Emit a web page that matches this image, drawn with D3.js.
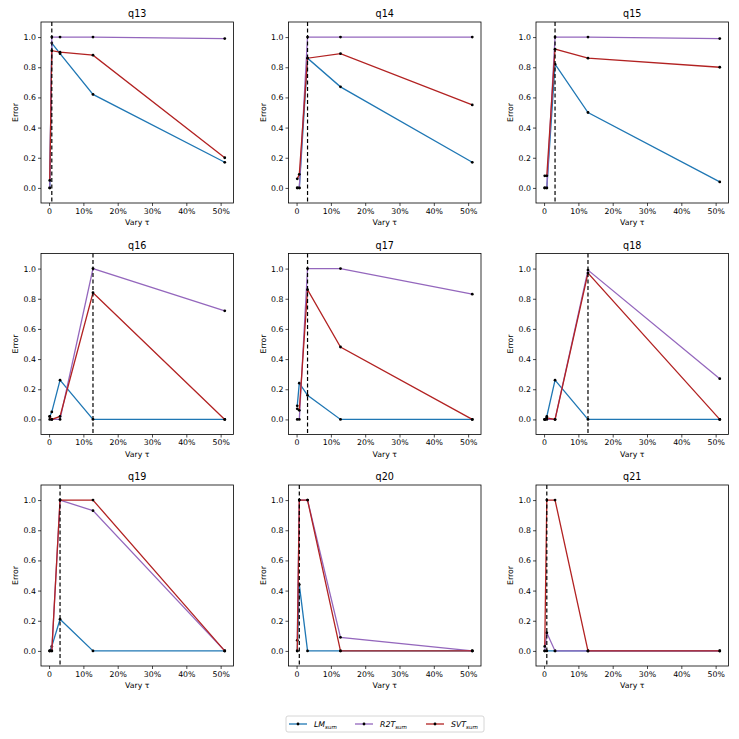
<!DOCTYPE html>
<html>
<head>
    <meta charset="utf-8">
    <title></title>
    <script src="https://d3js.org/d3.v7.min.js"></script>
    <style>
        html, body { margin: 0; padding: 0; background: white; }
        text { font-family: "DejaVu Sans", sans-serif; }
    </style>
</head>
<body>
<div id="chart"></div>
<script>
    // tau values (percent) shared by every panel
    const taus = [0.2, 0.8, 3.2, 12.8, 51.2];
    const queries = ["q13", "q14", "q15", "q16", "q17", "q18", "q19", "q20", "q21"];

    // error per query, one row per query, one value per tau
    const lmSum = [
        [0.00, 0.96, 0.89, 0.62, 0.17],
        [0.00, 0.00, 0.86, 0.67, 0.17],
        [0.00, 0.00, 0.82, 0.50, 0.04],
        [0.02, 0.05, 0.26, 0.00, 0.00],
        [0.09, 0.24, 0.16, 0.00, 0.00],
        [0.00, 0.02, 0.26, 0.00, 0.00],
        [0.00, 0.03, 0.21, 0.00, 0.00],
        [0.00, 0.44, 0.00, 0.00, 0.00],
        [0.00, 0.00, 0.00, 0.00, 0.00]
    ];
    const r2tSum = [
        [0.00, 1.00, 1.00, 1.00, 0.99],
        [0.00, 0.00, 1.00, 1.00, 1.00],
        [0.00, 0.00, 1.00, 1.00, 0.99],
        [0.00, 0.00, 0.00, 1.00, 0.72],
        [0.00, 0.00, 1.00, 1.00, 0.83],
        [0.00, 0.00, 0.00, 0.99, 0.27],
        [0.00, 0.00, 1.00, 0.93, 0.00],
        [0.07, 1.00, 1.00, 0.09, 0.00],
        [0.00, 0.12, 0.00, 0.00, 0.00]
    ];
    const svtSum = [
        [0.05, 0.91, 0.90, 0.88, 0.20],
        [0.06, 0.09, 0.86, 0.89, 0.55],
        [0.08, 0.08, 0.92, 0.86, 0.80],
        [0.02, 0.00, 0.02, 0.84, 0.00],
        [0.07, 0.06, 0.86, 0.48, 0.00],
        [0.00, 0.01, 0.00, 0.97, 0.00],
        [0.00, 0.00, 1.00, 1.00, 0.00],
        [0.00, 1.00, 1.00, 0.00, 0.00],
        [0.03, 1.00, 1.00, 0.00, 0.00]
    ];
    // dashed marker: chosen tau per query
    const chosenTau = [0.8, 3.2, 3.2, 12.8, 3.2, 12.8, 3.2, 0.8, 0.8];

    const xTicks = [0, 10, 20, 30, 40, 50];
    const yTicks = [0, 0.2, 0.4, 0.6, 0.8, 1.0];

    const series = [
        { name: "LM", values: lmSum, color: "#1f77b4" },
        { name: "R2T", values: r2tSum, color: "#9467bd" },
        { name: "SVT", values: svtSum, color: "#b22222" }
    ];

    const W = 739, H = 739;
    const colLeft = [41, 288.5, 536];
    const rowTop = [22, 253.5, 485];
    const pw = 192.5, ph = 181;

    const svg = d3.select("#chart").append("svg")
        .attr("width", W)
        .attr("height", H);

    svg.append("rect").attr("width", W).attr("height", H).attr("fill", "white");

    const x = d3.scaleLinear().domain([-2.35, 53.75]).range([0, pw]);
    const y = d3.scaleLinear().domain([-0.1, 1.1]).range([ph, 0]);

    queries.forEach((q, i) => {
        const g = svg.append("g")
            .attr("transform", `translate(${colLeft[i % 3]},${rowTop[Math.floor(i / 3)]})`);

        // axes
        const xa = g.append("g")
            .attr("transform", `translate(0,${ph})`)
            .call(d3.axisBottom(x).tickValues(xTicks)
                .tickFormat(d => d === 0 ? "0" : d + "%")
                .tickSize(3).tickPadding(2));
        const ya = g.append("g")
            .call(d3.axisLeft(y).tickValues(yTicks)
                .tickFormat(d3.format(".1f"))
                .tickSize(3).tickPadding(2));
        [xa, ya].forEach(a => {
            a.select(".domain").remove();
            a.selectAll("text").style("font-size", "7.8px").attr("fill", "#000");
            a.selectAll("line").attr("stroke", "#000").attr("stroke-width", 0.7);
        });

        // lines and markers
        const line = d3.line().x((d, k) => x(taus[k])).y(d => y(d));
        series.forEach(s => {
            const vals = s.values[i];
            g.append("path")
                .attr("d", line(vals))
                .attr("fill", "none")
                .attr("stroke", s.color)
                .attr("stroke-width", 1.3);
            g.selectAll(null)
                .data(vals)
                .enter()
                .append("circle")
                .attr("cx", (d, k) => x(taus[k]))
                .attr("cy", d => y(d))
                .attr("r", 1.4)
                .attr("fill", "#000");
        });

        // chosen tau
        g.append("line")
            .attr("x1", x(chosenTau[i])).attr("x2", x(chosenTau[i]))
            .attr("y1", 0).attr("y2", ph)
            .attr("stroke", "#000")
            .attr("stroke-width", 1.2)
            .attr("stroke-dasharray", "4,2.5");

        // frame
        g.append("rect")
            .attr("width", pw).attr("height", ph)
            .attr("fill", "none")
            .attr("stroke", "#000")
            .attr("stroke-width", 0.8);

        g.append("text")
            .attr("x", pw / 2).attr("y", -5)
            .attr("text-anchor", "middle")
            .style("font-size", "9.6px")
            .text(q);

        g.append("text")
            .attr("x", pw / 2).attr("y", ph + 22)
            .attr("text-anchor", "middle")
            .style("font-size", "7.8px")
            .text("Vary τ");

        g.append("text")
            .attr("transform", `translate(-23,${ph / 2}) rotate(-90)`)
            .attr("text-anchor", "middle")
            .style("font-size", "7.8px")
            .text("Error");
    });

    // legend
    const lg = svg.append("g").attr("transform", "translate(286,716)");
    lg.append("rect")
        .attr("width", 198).attr("height", 16)
        .attr("rx", 2)
        .attr("fill", "white")
        .attr("stroke", "#ccc")
        .attr("stroke-width", 0.8);
    const legX = [3, 69, 140];
    series.forEach((s, k) => {
        const e = lg.append("g").attr("transform", `translate(${legX[k]},8)`);
        e.append("line").attr("x1", 0).attr("x2", 18)
            .attr("stroke", s.color).attr("stroke-width", 1.3);
        e.append("circle").attr("cx", 9).attr("r", 1.4).attr("fill", "#000");
        const t = e.append("text").attr("x", 25).attr("y", 3)
            .style("font-size", "7.8px").style("font-style", "italic");
        t.append("tspan").text(s.name);
        t.append("tspan").attr("dy", 2).style("font-size", "5.5px").text("sum");
    });
</script>
</body>
</html>
